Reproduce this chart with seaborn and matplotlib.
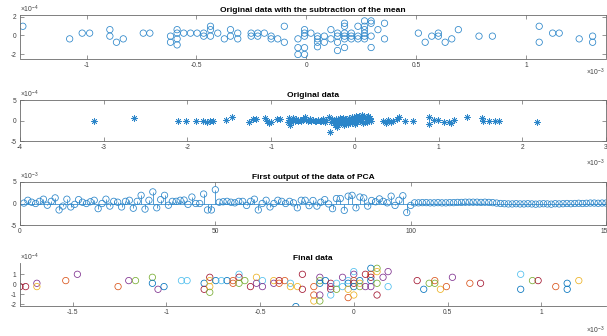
import numpy as np
import pandas as pd
import matplotlib
matplotlib.use("Agg")
import matplotlib.pyplot as plt
import seaborn as sns

# ---------------- data ----------------
# Panel 1: x in units of 1e-3, y in units of 1e-4
p1_x = [-1.29, -1.077, -1.02, -0.986, -0.894, -0.894, -0.864, -0.833, -0.742, -0.712,
        -0.618, -0.618, -0.588, -0.588, -0.588, -0.588, -0.558, -0.527, -0.497, -0.467,
        -0.467, -0.436, -0.436, -0.436, -0.403, -0.373, -0.345, -0.345, -0.312, -0.312,
        -0.251, -0.251, -0.221, -0.221, -0.191, -0.16, -0.16, -0.13, -0.10, -0.10,
        -0.038, -0.038, -0.038, -0.008, -0.008, -0.008, -0.008, -0.008,
        0.021, 0.051, 0.051, 0.051, 0.051, 0.082, 0.082, 0.112, 0.112,
        0.142, 0.142, 0.142, 0.142, 0.174, 0.174, 0.174, 0.174, 0.174, 0.174,
        0.205, 0.205, 0.205, 0.235, 0.235, 0.235,
        0.265, 0.265, 0.265, 0.265, 0.265, 0.265, 0.295, 0.295, 0.295, 0.295,
        0.326, 0.356, 0.356,
        0.51, 0.541, 0.571, 0.601, 0.601, 0.632, 0.662, 0.692, 0.786, 0.847,
        1.06, 1.06, 1.121, 1.151, 1.242, 1.303, 1.303]
p1_y = [0.98, -0.36, 0.25, 0.25, 0.62, -0.07, -0.72, -0.36, 0.25, 0.25,
        -0.07, -0.72, 0.62, 0.25, -0.36, -1.0, 0.25, 0.25, 0.25, 0.25,
        -0.07, 0.98, 0.62, -0.07, 0.25, -0.36, 0.62, -0.07, 0.25, -0.36,
        0.25, -0.07, 0.25, -0.07, 0.25, -0.07, -0.36, -0.36, 0.98, -0.72,
        -0.36, -1.3, -2.02, 0.62, 0.25, -0.07, -1.3, -2.02,
        0.25, -0.07, -0.36, -0.72, -1.2, -0.07, -0.72, 0.62, -0.36,
        0.25, -0.07, -0.72, -1.6, 1.3, 0.98, 0.25, -0.07, -0.36, -1.28,
        0.25, -0.07, -0.36, 0.98, -0.07, -0.36,
        1.55, 0.98, 0.62, 0.25, -0.07, -0.36, 1.55, 1.3, -0.07, -1.28,
        0.62, 1.3, -0.36,
        0.25, -0.72, -0.07, 0.25, -0.07, -0.72, -0.36, 0.62, -0.07, -0.07,
        0.98, -0.72, 0.25, 0.25, -0.36, -0.07, -0.72]

# Panel 2: x in units of 1e-3, y in units of 1e-4
p2_x = [-3.12, -2.64, -2.11, -2.02, -1.9, -1.81, -1.77, -1.73, -1.69, -1.54,
        -1.47, -1.27, -1.22, -1.18, -1.07, -1.05, -1.03, -1.0, -0.93, -0.9,
        -0.80, -0.79, -0.78, -0.77, -0.76, -0.75, -0.74, -0.72, -0.70, -0.68,
        -0.66, -0.64, -0.62, -0.60, -0.58, -0.56, -0.54, -0.52, -0.50, -0.48,
        -0.46, -0.44, -0.42, -0.40, -0.38, -0.36, -0.34,
        -0.31, -0.30, -0.29, -0.27, -0.25, -0.24, -0.23, -0.22, -0.21, -0.20,
        -0.19, -0.18, -0.17, -0.16, -0.15, -0.14, -0.13, -0.12, -0.11, -0.10,
        -0.09, -0.08, -0.07, -0.06, -0.05, -0.04, -0.03, -0.02, -0.01, 0.0,
        0.01, 0.02, 0.03, 0.04, 0.05, 0.06, 0.07, 0.08, 0.09, 0.10,
        0.11, 0.12, 0.13, 0.14, 0.15, 0.16, 0.17, 0.18, 0.19,
        0.34, 0.37, 0.40, 0.43, 0.46, 0.50, 0.53, 0.60, 0.69, 0.89,
        0.89, 0.95, 0.99, 1.07, 1.13, 1.15, 1.19, 1.34, 1.52, 1.53,
        1.60, 1.68, 1.72, 2.17]
p2_y = [0.0, 0.7, 0.0, 0.0, 0.0, 0.0, -0.3, -0.2, -0.2, 0.2,
        0.8, -0.4, 0.3, 0.3, 0.6, -0.2, -0.6, -0.3, 0.3, 0.3,
        -0.4, 0.5, -1.0, 0.2, -0.3, 0.1, 0.6, 0.0, 0.3, -0.2,
        0.2, 0.0, 0.4, 0.8, 0.1, -0.1, 0.3, 0.0, 0.2, -0.2,
        0.0, 0.1, -0.1, 0.0, 0.4, -0.3, 0.1,
        0.8, -2.7, -0.3, 0.4, 0.1, -1.1, -0.6, 0.3, -1.6, 0.0,
        -0.8, 0.5, -0.4, 0.2, -0.2, 0.6, -1.2, 0.1, -0.5, 0.3,
        0.0, -0.9, 0.7, -0.3, 0.2, -0.6, 0.9, -0.1, 0.4, -0.8,
        1.0, 0.1, -0.4, 0.6, 1.2, -0.2, 0.3, 1.3, 0.8, -0.5,
        1.1, 0.5, 0.0, 0.9, -0.3, 1.2, 0.4, 0.7, -0.2,
        0.0, -0.5, 0.1, -0.4, 0.0, 0.3, 0.8, 0.0, 0.0, 0.8,
        -0.8, 0.2, 0.2, -0.3, -0.3, -0.7, 0.1, 0.8, 0.5, 0.0,
        0.0, 0.0, 0.0, -0.3]

# Panel 3: first PCA output, y in units of 1e-3
p3_index = list(range(1, 151))
p3_value = [0.1, 0.75, 0.3, 0.0, 0.5, 1.0, -0.4, 0.5, 1.3, -1.5,
            -0.6, 1.0, -0.8, -0.2, 0.9, 0.3, 0.0, 0.4, 0.75, -1.2,
            0.0, 1.0, -0.6, 0.5, 0.3, -0.8, 0.5, 0.75, -1.1, 0.5,
            1.9, -1.3, 0.75, 2.7, -1.0, 0.9, 1.9, -0.4, 0.5, 0.5,
            0.75, 0.8, -0.2, 1.5, 0.0, 0.0, 2.2, -1.5, -1.5, 3.2,
            0.3, 0.4, 0.5, 0.3, 0.15, 0.5, 0.5, -0.45, 0.5, 1.0,
            -1.5, 0.0, 0.75, -0.8, 0.0, 0.75, 0.5, 0.0, 0.5, 0.15,
            -1.0, 0.75, 0.75, -0.5, 0.7, -0.6, 0.3, 0.9, -0.1, -1.2,
            1.15, 1.15, -1.6, 1.7, 1.9, -1.0, 1.5, 1.3, -0.6, 0.7,
            0.4, 1.07, 0.5, 0.15, 1.7, -0.45, 0.75, 1.8, -2.1, -0.45,
            0.15, 0.15, 0.2, 0.2, 0.15, 0.15, 0.2, 0.15, 0.15, 0.2,
            0.2, 0.25, 0.25, 0.3, 0.3, 0.3, 0.3, 0.25, 0.3, 0.25,
            0.2, 0.1, 0.0, -0.05, -0.1, -0.1, -0.05, -0.1, -0.1, -0.05,
            -0.1, -0.15, -0.1, -0.05, -0.1, -0.15, -0.05, -0.1, -0.05, 0.0,
            -0.05, 0.0, 0.05, 0.0, 0.05, 0.1, 0.1, 0.05, 0.1, 0.1]

# Panel 4: final data, x in units of 1e-3, y in units of 1e-4, series = colour-order index
p4_x = [-1.78, -1.75, -1.69, -1.69, -1.536, -1.474, -1.257, -1.2, -1.164, -1.074,
        -1.074, -1.044, -1.012, -0.919, -0.889, -0.798, -0.798, -0.768, -0.768, -0.768,
        -0.768, -0.736, -0.706, -0.676, -0.644, -0.644, -0.612, -0.612, -0.612, -0.581,
        -0.551, -0.519, -0.519, -0.487, -0.487, -0.427, -0.427, -0.398, -0.398, -0.368,
        -0.338, -0.338, -0.309, -0.30, -0.274, -0.274,
        -0.213, -0.213, -0.213, -0.181, -0.181, -0.181, -0.181, -0.181, -0.151, -0.123,
        -0.123, -0.123, -0.123, -0.092, -0.092, -0.06, -0.06, -0.03, -0.03, -0.03,
        -0.03, 0.0, 0.0, 0.0, 0.0, 0.0, 0.0, 0.032, 0.032, 0.032,
        0.062, 0.062, 0.091, 0.091, 0.091, 0.091, 0.091, 0.124, 0.124, 0.124,
        0.124, 0.156, 0.183, 0.183,
        0.338, 0.373, 0.402, 0.432, 0.432, 0.462, 0.494, 0.526, 0.619, 0.676,
        0.89, 0.89, 0.953, 0.983, 1.077, 1.138, 1.138, 1.2]
p4_y = [-0.23, -0.23, 0.1, -0.23, 0.37, 1.0, -0.23, 0.37, 0.37, 0.7,
        0.1, -0.5, -0.23, 0.37, 0.37, 0.1, -0.5, 0.7, 0.37, -0.23,
        -0.8, 0.37, 0.37, 0.37, 0.37, 0.1, 1.0, 0.7, 0.1, 0.37,
        -0.23, 0.7, 0.1, 0.37, -0.23, 0.37, 0.1, 0.37, 0.1, 0.37,
        0.1, -0.23, -2.23, -0.23, 1.0, -0.5,
        -0.23, -1.07, -1.67, 0.7, 0.37, 0.1, -1.07, -1.67, 0.37, 0.1,
        -0.23, -0.5, -1.07, 0.1, -0.5, 0.7, -0.23, 0.37, 0.1, -0.5,
        -1.33, 1.27, 1.0, 0.37, 0.1, -0.23, -1.07, 0.37, 0.1, -0.23,
        1.0, -0.23, 1.6, 1.0, 0.7, 0.37, -0.23, 1.6, 1.27, 0.1,
        -1.07, 0.7, 1.27, -0.23,
        0.37, -0.5, 0.1, 0.37, 0.1, -0.5, -0.23, 0.7, 0.1, 0.1,
        1.0, -0.5, 0.37, 0.37, -0.23, 0.1, -0.5, 0.37]
p4_series = [6, 6, 3, 2, 1, 3, 1, 3, 4, 4,
             0, 3, 0, 5, 5, 0, 6, 6, 2, 2,
             4, 0, 5, 0, 1, 1, 5, 6, 4, 4,
             6, 2, 3, 5, 3, 2, 3, 6, 1, 1,
             5, 2, 0, 2, 6, 6,
             1, 1, 2, 3, 4, 0, 3, 4, 0, 6,
             3, 6, 5, 5, 4, 3, 5, 5, 0, 2,
             1, 5, 3, 1, 6, 0, 2, 0, 2, 4,
             6, 3, 0, 1, 6, 0, 3, 4, 2, 4,
             6, 3, 3, 5,
             6, 0, 4, 1, 4, 2, 1, 3, 1, 6,
             5, 0, 4, 6, 1, 0, 0, 2]

titles = ["Original data with the subtraction of the mean", "Original data",
          "First output of the data of PCA", "Final data"]

# ---------------- style ----------------
sns.set_theme(style="white")
plt.rcParams["font.family"] = ["Liberation Sans", "DejaVu Sans"]
plt.rcParams["mathtext.fontset"] = "custom"
plt.rcParams["mathtext.rm"] = "Liberation Sans"
plt.rcParams["mathtext.it"] = "Liberation Sans:italic"
plt.rcParams["mathtext.bf"] = "Liberation Sans:bold"

MATLAB = ["#0072BD", "#D95319", "#EDB120", "#7E2F8E", "#77AC30", "#4DBEEE", "#A2142F"]
BLUE = "#2a85c9"
AXC = "#6a6a6a"
TXT = "#404040"
W, H = 607, 336
MS = 21

fig = plt.figure(figsize=(W / 100, H / 100), dpi=100)


def add_axes(top, bottom):
    return fig.add_axes([20 / W, 1 - bottom / H, 586 / W, (bottom - top) / H])


def style(ax, box=True):
    for name, s in ax.spines.items():
        s.set_color(AXC)
        s.set_linewidth(0.6)
    if not box:
        ax.spines["top"].set_visible(False)
        ax.spines["right"].set_visible(False)
    ax.tick_params(direction="in", length=3.2, width=0.5, color=AXC,
                   labelsize=4.8, labelcolor=TXT, pad=2.5,
                   bottom=True, left=True, top=box, right=box)
    ax.set_xlabel("")
    ax.set_ylabel("")


def open_circles(ax, lw=0.55):
    coll = ax.collections[-1]
    fc = coll.get_facecolors()
    coll.set_edgecolors(fc)
    coll.set_facecolors("none")
    coll.set_linewidths(lw)


def title(ax, t):
    ax.set_title(t, fontsize=6, fontweight="bold", pad=2.5, color="black")


def yexp(ax, e):
    ax.text(0.0, 1.01, r"$\times10^{%d}$" % e, transform=ax.transAxes,
            fontsize=4.9, color=TXT, ha="left", va="bottom")


def xexp(ypix, e):
    fig.text(605 / W, 1 - ypix / H, r"$\times10^{%d}$" % e, fontsize=4.9,
             color=TXT, ha="right", va="center")


# ---- Panel 1 ----
ax1 = add_axes(15, 58.5)
d1 = pd.DataFrame({"x": p1_x, "y": p1_y})
sns.scatterplot(data=d1, x="x", y="y", ax=ax1, color=BLUE, marker="o", s=MS, linewidth=0)
open_circles(ax1)
ax1.set_xlim(-1.303, 1.364)
ax1.set_ylim(-2.45, 2.18)
ax1.set_xticks([-1, -0.5, 0, 0.5, 1])
ax1.set_xticklabels(["-1", "-0.5", "0", "0.5", "1"])
ax1.set_yticks([-2, 0, 2])
ax1.set_yticklabels(["-2", "0", "2"])
style(ax1)
title(ax1, titles[0])
yexp(ax1, -4)
xexp(72, -3)

# ---- Panel 2 ----
ax2 = add_axes(100, 141)
d2 = pd.DataFrame({"x": p2_x, "y": p2_y})
sns.scatterplot(data=d2, x="x", y="y", ax=ax2, color=BLUE, marker=(8, 2, 0), s=18, linewidth=0.5)
ax2.set_xlim(-4, 3)
ax2.set_ylim(-5, 5)
ax2.set_xticks([-4, -3, -2, -1, 0, 1, 2, 3])
ax2.set_xticklabels(["-4", "-3", "-2", "-1", "0", "1", "2", "3"])
ax2.set_yticks([-5, 0, 5])
ax2.set_yticklabels(["-5", "0", "5"])
style(ax2)
title(ax2, titles[1])
yexp(ax2, -4)
xexp(163, -3)

# ---- Panel 3 ----
ax3 = add_axes(182, 225)
d3 = pd.DataFrame({"i": p3_index, "v": p3_value})
ax3.axhline(0, color=BLUE, lw=0.55, zorder=1)
ax3.vlines(d3["i"], 0, d3["v"], color=BLUE, lw=0.55, zorder=1)
sns.scatterplot(data=d3, x="i", y="v", ax=ax3, color=BLUE, marker="o", s=MS, linewidth=0, zorder=2)
open_circles(ax3)
ax3.set_xlim(0, 150)
ax3.set_ylim(-5, 5)
ax3.set_xticks([0, 50, 100, 150])
ax3.set_xticklabels(["0", "50", "100", "150"])
ax3.set_yticks([-5, 0, 5])
ax3.set_yticklabels(["-5", "0", "5"])
style(ax3)
title(ax3, titles[2])
yexp(ax3, -3)

# ---- Panel 4 ----
ax4 = add_axes(263, 306)
d4 = pd.DataFrame({"x": p4_x, "y": p4_y, "s": p4_series})
sns.scatterplot(data=d4, x="x", y="y", hue="s", palette=MATLAB, hue_order=list(range(7)),
                ax=ax4, marker="o", s=MS, linewidth=0, legend=False)
open_circles(ax4)
ax4.set_xlim(-1.78, 1.345)
ax4.set_ylim(-2.17, 2.13)
ax4.set_xticks([-1.5, -1, -0.5, 0, 0.5, 1])
ax4.set_xticklabels(["-1.5", "-1", "-0.5", "0", "0.5", "1"])
ax4.set_yticks([-2, -1, 0, 1])
ax4.set_yticklabels(["-2", "-1", "0", "1"])
style(ax4, box=False)
title(ax4, titles[3])
yexp(ax4, -4)
xexp(330, -3)

fig.savefig("out.png", dpi=100)
